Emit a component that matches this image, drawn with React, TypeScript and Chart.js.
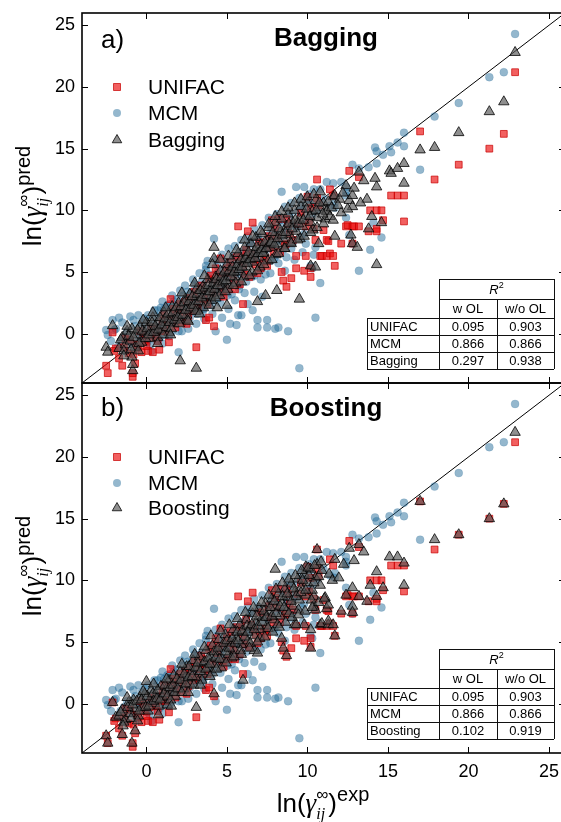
import React, { useEffect, useRef } from "react";
import { Chart, registerables } from "chart.js";

Chart.register(...registerables);

// ---------------- data ----------------
const axisMin = -4;
const axisMax = 26;
const xTickValues = [0, 5, 10, 15, 20, 25];
const yTickValues = [0, 5, 10, 15, 20, 25];
const diagonal: [number, number][] = [[-4, -4], [26, 26]];

const unifacPts: [number, number][] = [
  [-2.5, -2.6], [-2.4, -3.2], [-2.1, 0.1], [-1.9, -1.2], [-1.5, -2.6], [-1.3, -0.4], [-1.1, -1.6],
  [-0.85, -3.5], [-0.85, -3.2], [-0.7, -2.4], [-0.6, -0.9], [-0.4, 0.2], [-0.3, -1.5], [-0.1, -0.6],
  [0.1, -1.4], [0.3, 0.5], [0.4, -1.5], [0.6, -0.2], [0.8, -1.3], [1.0, 1.0], [1.2, 0.2], [1.4, -0.7],
  [1.5, 2.8], [1.6, 1.4], [1.8, 0.5], [2.0, 1.9], [2.2, 0.9], [2.4, 2.6], [2.6, 1.4], [2.8, 2.2],
  [3.0, 3.4], [3.1, -1.1], [3.2, 2.1], [3.4, 3.9], [3.6, 2.8], [3.7, 1.1], [3.9, 1.3], [3.9, 4.4],
  [4.1, 3.3], [4.2, 0.6], [4.3, 5.3], [4.4, 4.1], [4.6, 6.1], [4.7, 3.4], [4.9, 4.9], [5.1, 3.6],
  [5.2, 5.8], [5.4, 4.3], [5.6, 6.2], [5.7, 8.7], [5.8, 4.0], [6.0, 2.4], [6.0, 5.5], [6.2, 6.8],
  [6.3, 8.3], [6.4, 4.6], [6.6, 9.0], [6.7, 6.0], [6.9, 4.9], [7.1, 5.3], [7.2, 7.4], [7.4, 6.1],
  [7.5, 5.5], [7.6, 7.9], [7.8, 9.2], [7.9, 6.6], [8.1, 7.8], [8.2, 9.3], [8.4, 5.0], [8.5, 4.3],
  [8.6, 7.2], [8.7, 9.3], [8.7, 3.8], [8.7, 7.3], [8.9, 8.1], [9.0, 4.5], [9.3, 5.3], [9.3, 6.3],
  [9.4, 8.9], [9.8, 5.1], [9.9, 6.3], [9.9, 8.7], [10.0, 11.1], [10.2, 4.6], [10.2, 5.3], [10.2, 10.2],
  [10.4, 8.5], [10.5, 7.6], [10.6, 12.5], [10.7, 10.4], [10.8, 6.3], [10.9, 6.3], [11.2, 6.3],
  [11.2, 7.6], [11.3, 7.5], [11.4, 6.5], [11.6, 6.3], [11.6, 11.2], [11.7, 5.5], [12.1, 7.3],
  [12.4, 8.7], [12.5, 8.8], [12.6, 13.2], [12.8, 8.7], [12.8, 7.3], [12.9, 8.7], [13.2, 8.7],
  [13.2, 12.7], [13.8, 8.3], [13.9, 10.0], [14.3, 10.0], [14.3, 8.5], [14.3, 8.3], [14.6, 10.0],
  [14.7, 9.2], [15.2, 11.2], [15.6, 11.2], [16.0, 11.2], [16.0, 9.1], [17.0, 16.4], [17.9, 12.5],
  [19.4, 13.7], [21.3, 15.0], [22.2, 16.2], [22.9, 21.2],
  [-2.0, -1.4], [-1.7, -2.0], [-1.4, -1.1], [-1.0, -0.5], [-0.8, -1.7], [-0.5, -1.1], [-0.2, 0.0],
  [0.0, -1.0], [0.2, -0.3], [0.5, 0.4], [0.7, -0.6], [0.9, 0.2], [1.1, 1.5], [1.3, 0.7], [1.7, 2.0],
  [1.9, 1.1], [2.1, 2.4], [2.3, 1.7], [2.5, 0.8], [2.7, 2.9], [2.9, 1.9], [3.3, 2.8], [3.5, 3.6],
  [3.8, 2.4], [4.0, 4.7], [4.5, 4.7], [4.8, 3.0], [5.0, 5.3], [5.3, 4.9], [5.5, 3.6], [5.9, 6.2],
  [6.1, 4.8], [6.5, 6.4], [6.8, 5.6], [7.0, 7.4], [7.3, 5.9], [7.7, 7.0], [8.0, 8.6], [8.3, 6.6],
  [8.8, 8.9], [9.1, 7.6], [9.6, 9.8], [10.1, 9.1], [10.6, 11.0], [11.0, 8.4], [11.4, 11.7],
];

const mcmPts: [number, number][] = [
  [-2.5, 0.3], [-2.4, -0.1], [-2.1, 1.1], [-1.9, 0.4], [-1.6, -0.6], [-1.4, -0.3], [-1.2, 0.2],
  [-1.0, 1.4], [-0.9, -0.8], [-0.7, 0.6], [-0.5, -0.2], [-0.3, 0.9], [-0.2, -0.5], [0.0, 0.3],
  [0.1, 1.5], [0.2, -0.9], [0.4, 0.8], [0.5, 0.0], [0.7, 1.9], [0.8, -0.4], [0.9, 2.1], [1.0, 0.6],
  [1.2, 1.3], [1.3, 2.3], [1.4, -0.2], [1.6, 0.9], [1.7, 2.6], [1.8, 1.4], [2.0, -1.5], [2.0, 0.2],
  [2.1, 2.0], [2.3, 3.1], [2.4, 1.1], [2.5, 2.6], [2.6, 0.4], [2.8, 3.4], [2.9, 1.8], [3.0, 2.5],
  [3.1, 0.8], [3.2, 3.9], [3.4, 2.2], [3.5, 3.2], [3.6, 1.2], [3.7, 5.5], [3.8, 5.9], [3.8, 3.6],
  [3.9, 2.6], [4.0, 4.4], [4.1, 1.6], [4.2, 7.7], [4.2, 3.5], [4.3, 0.2], [4.4, 4.9], [4.5, 2.9],
  [4.6, 4.0], [4.7, 1.3], [4.8, 5.2], [4.9, 3.6], [5.0, -0.5], [5.0, 4.6], [5.1, 2.0], [5.2, 0.8],
  [5.3, 5.6], [5.4, 4.1], [5.5, 2.7], [5.6, 0.7], [5.7, 1.5], [5.7, 6.1], [5.8, 4.8], [5.9, 1.5],
  [6.0, 5.4], [6.1, 3.3], [6.2, 6.9], [6.3, 2.4], [6.4, 5.8], [6.5, 7.3], [6.6, 1.9], [6.7, 4.7],
  [6.8, 6.4], [6.9, 0.5], [6.9, 1.1], [7.0, 7.6], [7.1, 5.3], [7.2, 3.0], [7.3, 6.7], [7.5, 0.5],
  [7.5, 1.1], [7.6, 8.0], [7.7, 5.9], [7.8, 7.1], [8.0, 0.4], [8.0, 8.4], [8.1, 6.4], [8.2, 0.5],
  [8.3, 7.6], [8.4, 11.5], [8.5, 9.0], [8.6, 5.1], [8.8, 0.2], [8.8, 8.3], [8.9, 9.5], [9.0, 6.9],
  [9.2, 8.8], [9.3, 11.9], [9.4, 9.9], [9.5, -2.8], [9.6, 7.8], [9.8, 10.1], [9.8, 11.9], [10.0, 9.3],
  [10.2, 5.5], [10.2, 10.6], [10.3, 5.3], [10.4, 6.4], [10.4, 11.7], [10.5, 7.0], [10.5, 1.3],
  [10.6, 10.0], [10.8, 4.1], [10.8, 11.7], [11.0, 10.9], [11.2, 12.3], [11.4, 10.4], [11.6, 12.2],
  [11.7, 10.2], [11.7, 10.6], [12.1, 12.3], [12.4, 11.2], [12.4, 11.5], [12.4, 11.9], [12.4, 9.4],
  [12.6, 8.0], [12.8, 7.3], [12.8, 13.7], [13.2, 13.4], [13.2, 5.1], [13.8, 13.5], [13.9, 6.8],
  [14.1, 9.0], [14.2, 15.1], [14.3, 14.8], [14.3, 13.8], [14.6, 7.8], [14.7, 14.5], [15.1, 15.2],
  [15.2, 14.7], [15.6, 15.5], [16.0, 15.2], [16.0, 16.3], [17.0, 13.3], [17.9, 17.6], [19.4, 18.7],
  [21.3, 20.8], [22.2, 21.2], [22.9, 24.3],
  [-2.2, -0.6], [-2.0, 0.3], [-1.8, -1.1], [-1.5, 0.9], [-1.3, -1.4], [-1.1, -0.5], [-0.8, 1.1],
  [-0.6, -1.2], [-0.4, 0.1], [-0.1, 1.2], [0.05, -0.7], [0.3, 0.1], [0.6, 1.4], [0.65, -0.6],
  [0.85, 0.6], [1.1, 2.0], [1.15, -0.1], [1.35, 0.8], [1.5, 2.4], [1.55, 0.1], [1.75, 1.0],
  [1.9, 2.8], [2.05, 1.2], [2.2, 0.2], [2.35, 2.0], [2.55, 3.4], [2.7, 1.3], [2.85, 2.6], [3.0, 4.0],
  [3.15, 1.6], [3.3, 2.9], [3.45, 4.2], [3.55, 2.0], [3.75, 3.0], [3.9, 4.8], [4.05, 2.3],
  [4.25, 3.6], [4.4, 5.5], [4.55, 3.4], [4.75, 4.4], [4.9, 5.8], [5.05, 3.1], [5.25, 4.5],
  [5.4, 6.3], [5.55, 4.9], [5.75, 3.6], [5.9, 6.6], [6.05, 4.8], [6.25, 5.9], [6.4, 7.4],
  [6.55, 4.6], [6.75, 6.2], [6.9, 7.9], [7.05, 5.8], [7.25, 7.2], [7.4, 4.8], [7.6, 6.9],
  [7.75, 8.6], [7.95, 6.1], [8.1, 7.5], [8.3, 9.2], [8.5, 6.8], [8.7, 8.1], [8.9, 9.8], [9.1, 7.4],
  [9.35, 8.6], [9.6, 10.4], [9.8, 8.1], [10.0, 10.9], [10.3, 9.6],
  [2.4, 3.9], [2.9, 4.4], [3.3, 4.9], [3.7, 5.2], [4.3, 6.0], [4.7, 6.4], [5.1, 6.9], [5.5, 7.1],
  [5.9, 7.6], [6.3, 7.9], [6.7, 8.5], [7.2, 8.8], [7.6, 9.4], [8.1, 9.7], [8.6, 10.3], [9.0, 10.6],
  [9.5, 11.0], [10.1, 11.3], [3.5, 1.8], [4.1, 2.7], [4.6, 2.5], [5.3, 3.2], [5.8, 3.9], [6.2, 4.2],
  [6.7, 3.4], [7.1, 4.4], [7.7, 4.9], [8.2, 5.7], [8.7, 6.2], [9.2, 6.0], [9.7, 6.6], [9.9, 7.3],
  [0.5, 1.9], [1.0, 2.6], [1.6, 3.1], [2.1, 3.5], [-0.5, 1.5], [-1.7, 1.3], [0.3, -1.4], [1.0, -0.8],
];

const baggingPts: [number, number][] = [
  [-2.5, -1.1], [-2.4, -1.5], [-2.1, 0.65], [-0.85, -3.0], [-0.85, -2.5], [-0.9, -1.9], [2.1, -2.2],
  [3.1, -2.8], [-1.7, -1.2], [-1.5, -0.3], [-1.3, -0.9], [-1.2, 0.2], [-1.0, -0.6], [-0.9, 0.4],
  [-0.7, -1.1], [-0.6, -0.1], [-0.4, 0.6], [-0.3, -0.7], [-0.1, 0.1], [0.0, 0.9], [0.2, -0.4],
  [0.3, 0.5], [0.4, 1.3], [0.6, 0.2], [0.7, -0.3], [0.8, 1.0], [1.0, 0.4], [1.1, 1.7], [1.2, 0.9],
  [1.4, 0.1], [1.5, 1.4], [1.6, 2.2], [1.7, 0.8], [1.9, 1.6], [2.0, 2.5], [2.1, 1.1], [2.2, 1.9],
  [2.4, 2.8], [2.5, 1.5], [2.6, 2.3], [2.7, 3.2], [2.9, 2.0], [3.0, 2.7], [3.1, 3.6], [3.2, 1.9],
  [3.3, 3.0], [3.5, 3.8], [3.6, 2.5], [3.7, 3.4], [3.8, 4.4], [4.0, 3.0], [4.1, 3.7], [4.2, 7.0],
  [4.2, 6.1], [4.3, 4.6], [4.4, 2.1], [4.4, 3.3], [4.5, 4.1], [4.6, 5.1], [4.7, 3.8], [4.8, 4.5],
  [5.0, 2.3], [5.0, 5.6], [5.1, 4.0], [5.2, 4.9], [5.3, 6.0], [5.5, 4.6], [5.6, 5.4], [5.7, 6.5],
  [5.8, 5.0], [6.0, 5.9], [6.1, 7.0], [6.2, 5.4], [6.3, 6.3], [6.5, 7.3], [6.6, 5.8], [6.7, 6.7],
  [6.8, 7.8], [6.9, 2.6], [7.0, 6.2], [7.1, 7.2], [7.2, 8.1], [7.3, 6.6], [7.4, 3.1], [7.5, 7.5],
  [7.6, 8.6], [7.7, 7.0], [7.9, 7.9], [8.0, 9.0], [8.1, 3.5], [8.1, 7.3], [8.3, 8.2], [8.4, 9.3],
  [8.5, 7.7], [8.7, 8.7], [8.8, 9.7], [8.9, 8.0], [9.1, 9.0], [9.2, 10.0], [9.3, 8.3], [9.5, 2.8],
  [9.5, 9.3], [9.6, 10.3], [9.7, 8.7], [9.9, 9.6], [10.0, 10.6], [10.2, 5.5], [10.2, 9.0],
  [10.3, 9.9], [10.5, 5.4], [10.5, 10.8], [10.6, 9.4], [10.7, 7.3], [10.8, 10.2], [11.0, 10.6],
  [11.1, 9.3], [11.2, 10.0], [11.2, 9.9], [11.4, 9.5], [11.6, 9.2], [11.6, 11.1], [11.7, 11.2],
  [11.7, 7.9], [12.0, 10.9], [12.1, 9.8], [12.4, 12.0], [12.6, 10.8], [12.7, 8.0], [12.8, 11.2],
  [12.8, 10.3], [12.8, 7.3], [13.1, 7.0], [13.2, 13.1], [13.7, 10.9], [13.8, 8.5], [14.0, 9.5],
  [14.2, 12.6], [14.3, 11.9], [14.3, 5.6], [14.6, 9.0], [15.1, 13.2], [15.2, 13.0], [15.6, 13.4],
  [16.0, 13.8], [16.0, 12.2], [17.0, 14.9], [17.9, 15.1], [19.4, 16.3], [21.3, 18.0], [22.2, 18.8],
  [22.9, 22.8],
  [-1.6, -0.5], [-1.4, -1.4], [-1.1, -0.2], [-0.95, -1.3], [-0.8, -0.3], [-0.55, 0.3], [-0.45, -0.8],
  [-0.25, 0.2], [-0.05, -0.4], [0.05, 0.4], [0.15, -0.1], [0.35, 0.9], [0.45, 0.1], [0.55, 0.6],
  [0.75, 0.3], [0.85, 1.3], [0.95, 0.7], [1.05, -0.1], [1.15, 1.2], [1.25, 0.5], [1.35, 1.6],
  [1.45, 0.9], [1.55, 0.4], [1.65, 1.7], [1.75, 1.1], [1.85, 2.1], [1.95, 1.3], [2.05, 0.8],
  [2.15, 2.2], [2.25, 1.5], [2.35, 2.5], [2.45, 1.9], [2.55, 1.1], [2.65, 2.6], [2.75, 2.1],
  [2.85, 3.0], [2.95, 2.3], [3.05, 1.8], [3.15, 3.2], [3.25, 2.6], [3.35, 3.5], [3.45, 2.9],
  [3.55, 2.1], [3.65, 3.7], [3.75, 3.1], [3.85, 3.9], [3.95, 3.4], [4.05, 2.7], [4.15, 4.1],
  [4.25, 3.6], [4.35, 4.4], [4.45, 3.9], [4.55, 3.1], [4.65, 4.6], [4.75, 4.2], [4.85, 5.0],
  [4.95, 4.3], [5.05, 3.6], [5.15, 5.1], [5.25, 4.6], [5.35, 5.4], [5.45, 5.0], [5.55, 4.1],
  [5.65, 5.6], [5.75, 5.2], [5.85, 6.0], [5.95, 5.4], [6.05, 4.6], [6.15, 6.1], [6.25, 5.7],
  [6.35, 6.6], [6.45, 6.0], [6.55, 5.0], [6.65, 6.4], [6.75, 6.1], [6.85, 7.0], [6.95, 6.5],
  [7.05, 5.4], [7.15, 6.8], [7.25, 6.5], [7.35, 7.4], [7.45, 6.9], [7.55, 5.9], [7.65, 7.3],
  [7.75, 7.4], [7.85, 8.2], [7.95, 7.2], [8.05, 6.4], [8.15, 7.7], [8.25, 8.5], [8.45, 8.0],
  [8.55, 6.9], [8.65, 8.2], [8.85, 8.9], [8.95, 7.4], [9.05, 8.5], [9.25, 9.2], [9.45, 8.9],
  [9.55, 7.7], [9.75, 9.2], [9.95, 10.1], [10.15, 9.5], [10.35, 8.4], [10.55, 10.0], [10.75, 10.6],
  [10.95, 9.7],
  [4.1, 5.6], [4.3, 2.9], [4.6, 6.0], [4.9, 3.4], [5.1, 6.3], [5.4, 3.9], [5.6, 6.8], [5.9, 4.2],
  [6.1, 7.6], [6.4, 4.7], [6.6, 7.9], [6.9, 5.1], [7.1, 8.3], [7.3, 5.6], [7.6, 8.9], [7.8, 6.0],
  [8.0, 9.5], [8.2, 6.5], [8.4, 9.9], [8.6, 6.9], [8.8, 10.2], [9.0, 7.3], [9.2, 10.6], [9.4, 7.6],
  [9.6, 10.9], [9.8, 7.9], [10.0, 11.1], [10.2, 8.2], [10.4, 11.3], [10.6, 8.6], [10.8, 11.5],
  [11.0, 8.9], [11.3, 10.7], [11.5, 10.2], [11.9, 10.4], [12.2, 11.4], [12.5, 10.1], [12.9, 11.8],
  [13.3, 10.6], [13.5, 12.4], [2.2, 3.3], [2.6, 1.0], [3.0, 4.1], [3.3, 1.6], [3.6, 4.7], [3.9, 2.3],
  [1.2, 2.1], [1.5, -0.1], [0.4, 1.7], [0.7, -0.8], [-0.2, 1.1], [-0.5, -1.4], [-1.2, 0.6], [-1.4, -1.8],
];

const boostingPts: [number, number][] = [
  [-2.5, -2.6], [-2.4, -3.2], [-2.1, 0.1], [-1.9, -1.1], [-1.5, -2.5], [-0.9, -3.2], [-0.7, -2.2],
  [0.0, 1.8], [3.1, -0.3], [4.2, 0.8], [6.0, 1.9], [6.7, 4.3], [6.9, 4.1], [8.0, 10.9], [8.4, 5.3],
  [8.5, 4.5], [8.7, 3.9], [9.2, 6.4], [9.8, 6.4], [9.3, 6.4], [9.9, 11.1], [10.2, 4.5], [10.2, 6.0],
  [10.4, 8.7], [10.4, 7.9], [10.5, 7.6], [10.6, 12.5], [10.8, 6.4], [10.9, 6.5], [11.1, 8.6],
  [11.2, 7.7], [11.3, 6.4], [11.3, 6.7], [11.3, 8.0], [11.6, 6.4], [11.7, 5.5], [11.7, 11.7],
  [12.1, 7.5], [12.4, 8.8], [12.6, 12.6], [12.8, 9.4], [12.8, 7.9], [12.8, 7.4], [13.2, 8.7],
  [13.2, 12.9], [13.7, 8.3], [13.9, 9.6], [14.3, 10.7], [14.3, 8.7], [14.7, 9.4], [15.1, 11.9],
  [15.6, 11.9], [16.0, 11.4], [16.0, 9.6], [17.0, 16.4], [17.9, 13.3], [19.4, 13.7], [21.3, 15.0],
  [22.2, 16.2], [22.9, 22.0],
  [-1.7, -1.0], [-1.5, -0.5], [-1.3, -1.3], [-1.1, 0.1], [-1.0, -0.8], [-0.8, 0.3], [-0.7, -0.4],
  [-0.5, -1.0], [-0.4, 0.5], [-0.2, -0.3], [-0.1, 0.8], [0.1, -0.6], [0.2, 0.3], [0.3, 1.1],
  [0.5, 0.0], [0.6, 0.7], [0.8, -0.2], [0.9, 1.4], [1.0, 0.5], [1.2, 1.1], [1.3, -0.1], [1.4, 1.9],
  [1.6, 1.0], [1.7, 2.3], [1.8, 0.6], [2.0, 1.7], [2.1, 2.6], [2.3, 1.2], [2.4, 2.1], [2.5, 3.0],
  [2.7, 1.6], [2.8, 2.6], [2.9, 3.5], [3.1, 2.1], [3.2, 2.9], [3.3, 3.8], [3.5, 2.4], [3.6, 3.3],
  [3.7, 4.3], [3.9, 2.9], [4.0, 3.8], [4.1, 4.7], [4.3, 3.2], [4.4, 4.2], [4.5, 5.2], [4.7, 3.6],
  [4.8, 4.6], [4.9, 5.6], [5.1, 4.0], [5.2, 5.0], [5.4, 6.0], [5.5, 4.3], [5.6, 5.3], [5.8, 6.4],
  [5.9, 4.8], [6.0, 5.8], [6.2, 6.8], [6.3, 5.1], [6.4, 6.2], [6.6, 7.3], [6.7, 5.5], [6.8, 6.6],
  [7.0, 7.7], [7.1, 6.0], [7.2, 7.0], [7.4, 8.1], [7.5, 6.3], [7.6, 7.4], [7.8, 8.5], [7.9, 6.8],
  [8.0, 7.8], [8.2, 8.9], [8.3, 7.1], [8.4, 8.2], [8.6, 9.3], [8.7, 7.5], [8.8, 8.6], [9.0, 9.7],
  [9.1, 7.9], [9.2, 9.0], [9.4, 10.1], [9.5, 8.4], [9.6, 9.4], [9.8, 10.5], [9.9, 8.8], [10.0, 9.8],
  [10.2, 10.9], [10.3, 9.2], [10.5, 10.2], [10.6, 11.3], [10.8, 9.6],
  [-1.6, -0.7], [-1.4, -1.5], [-1.15, -0.3], [-0.95, -1.2], [-0.85, -0.1], [-0.6, 0.2], [-0.45, -0.6],
  [-0.3, 0.3], [-0.05, -0.3], [0.05, 0.6], [0.15, -0.2], [0.4, 0.8], [0.45, 0.2], [0.65, 0.4],
  [0.7, 1.1], [0.85, 0.3], [1.1, 0.8], [1.15, 1.5], [1.3, 0.6], [1.45, 1.3], [1.5, 0.3], [1.65, 1.5],
  [1.75, 0.9], [1.9, 2.0], [1.95, 1.2], [2.15, 1.9], [2.2, 0.9], [2.35, 2.4], [2.45, 1.6], [2.6, 2.1],
  [2.65, 3.0], [2.85, 2.2], [2.95, 1.5], [3.05, 2.9], [3.2, 3.3], [3.35, 2.6], [3.45, 1.9], [3.6, 3.4],
  [3.7, 2.8], [3.85, 3.7], [3.95, 3.2], [4.1, 2.5], [4.2, 4.2], [4.3, 3.7], [4.45, 4.5], [4.55, 3.6],
  [4.65, 2.9], [4.8, 4.9], [4.9, 4.2], [5.0, 5.1], [5.15, 4.5], [5.3, 3.7], [5.35, 5.3], [5.5, 4.9],
  [5.65, 5.8], [5.7, 5.1], [5.85, 4.3], [5.95, 5.9], [6.1, 5.4], [6.25, 6.3], [6.3, 5.8], [6.45, 4.9],
  [6.55, 6.4], [6.7, 6.0], [6.85, 7.1], [6.95, 6.3], [7.05, 5.3], [7.2, 6.6], [7.3, 7.5], [7.45, 7.0],
  [7.55, 6.1], [7.7, 7.8], [7.8, 7.1], [7.95, 8.3], [8.05, 7.3], [8.15, 6.4], [8.3, 7.9], [8.45, 8.7],
  [8.55, 7.8], [8.75, 8.9], [8.85, 7.3], [9.0, 8.3], [9.15, 9.3], [9.3, 8.7], [9.45, 7.6], [9.6, 9.0],
  [9.7, 10.0], [9.9, 9.2], [10.1, 10.4], [10.25, 8.4], [10.4, 9.8], [10.7, 10.3], [10.9, 10.8],
  [4.0, 5.5], [4.35, 2.8], [4.6, 5.9], [4.95, 3.3], [5.15, 6.4], [5.45, 3.8], [5.65, 6.9], [5.9, 4.0],
  [6.15, 7.4], [6.4, 4.5], [6.65, 7.8], [6.9, 5.0], [7.15, 8.2], [7.35, 5.4], [7.6, 8.8], [7.85, 5.8],
  [8.05, 9.3], [8.25, 6.2], [8.45, 9.8], [8.65, 6.6], [8.85, 10.1], [9.05, 7.0], [9.25, 10.4],
  [9.45, 7.2], [9.65, 10.8], [9.85, 7.5], [10.05, 11.0], [10.3, 7.8], [10.45, 11.2], [10.7, 8.2],
  [10.85, 11.5], [11.05, 8.5], [11.35, 10.5], [11.55, 10.0], [11.95, 10.2], [12.25, 11.3],
  [12.9, 11.6], [13.5, 12.3], [2.2, 3.2], [2.6, 0.9], [3.0, 4.0], [3.35, 1.5], [3.6, 4.6], [3.95, 2.2],
  [1.25, 2.0], [1.55, -0.2], [0.45, 1.6], [0.75, -0.9], [-0.2, 1.0], [-0.55, -1.4], [-1.2, 0.5],
  [-1.45, -1.8],
];

const topModelName = "Bagging";
const bottomModelName = "Boosting";
const topPanelLetter = "a)";
const bottomPanelLetter = "b)";
const tableHeader = ["w OL", "w/o OL"];
const topTableRows: [string, string, string][] = [
  ["UNIFAC", "0.095", "0.903"],
  ["MCM", "0.866", "0.866"],
  ["Bagging", "0.297", "0.938"],
];
const bottomTableRows: [string, string, string][] = [
  ["UNIFAC", "0.095", "0.903"],
  ["MCM", "0.866", "0.866"],
  ["Boosting", "0.102", "0.919"],
];

// ---------------- styles ----------------
const SANS = '"Liberation Sans", Arial, Helvetica, sans-serif';
const SERIF = '"Liberation Serif", "Times New Roman", serif';
const RED_FILL = "rgba(235,10,10,0.65)";
const RED_BORDER = "rgba(200,0,0,0.7)";
const BLUE_FILL = "rgba(31,104,150,0.48)";
const TRI_FILL = "rgba(85,85,85,0.66)";
const TRI_BORDER = "rgba(0,0,0,0.78)";

type Run = { t: string; f: string; dy: number; stack?: boolean };

function titleRuns(sup: string): Run[] {
  return [
    { t: "ln(", f: `26px ${SANS}`, dy: 0 },
    { t: "γ", f: `italic 27px ${SERIF}`, dy: 0 },
    { t: "ij", f: `italic 16px ${SERIF}`, dy: 7 },
    { t: "∞", f: `17px ${SANS}`, dy: -12, stack: true },
    { t: ")", f: `26px ${SANS}`, dy: 0 },
    { t: sup, f: `20px ${SANS}`, dy: -11 },
  ];
}

function drawRuns(ctx: CanvasRenderingContext2D, runs: Run[], cx: number, baseY: number) {
  const pos: number[] = [];
  let x = 0;
  let prevStart = 0;
  let prevW = 0;
  for (const r of runs) {
    ctx.font = r.f;
    const w = ctx.measureText(r.t).width;
    if (r.stack) {
      pos.push(prevStart);
      prevW = Math.max(prevW, w);
      x = prevStart + prevW;
    } else {
      pos.push(x);
      prevStart = x;
      prevW = w;
      x += w;
    }
  }
  const start = cx - x / 2;
  ctx.textAlign = "left";
  ctx.textBaseline = "alphabetic";
  ctx.fillStyle = "#000";
  runs.forEach((r, i) => {
    ctx.font = r.f;
    ctx.fillText(r.t, start + pos[i], baseY + r.dy);
  });
}

function drawMarker(ctx: CanvasRenderingContext2D, kind: string, x: number, y: number) {
  ctx.save();
  ctx.lineWidth = 1;
  if (kind === "rect") {
    ctx.fillStyle = RED_FILL;
    ctx.strokeStyle = RED_BORDER;
    ctx.beginPath();
    ctx.rect(x - 3.5, y - 3.5, 7, 7);
    ctx.fill();
    ctx.stroke();
  } else if (kind === "circle") {
    ctx.fillStyle = BLUE_FILL;
    ctx.beginPath();
    ctx.arc(x, y, 4, 0, Math.PI * 2);
    ctx.fill();
  } else {
    ctx.fillStyle = TRI_FILL;
    ctx.strokeStyle = TRI_BORDER;
    const r = 5.5;
    ctx.beginPath();
    ctx.moveTo(x, y - r);
    ctx.lineTo(x + r * 0.866, y + r * 0.5);
    ctx.lineTo(x - r * 0.866, y + r * 0.5);
    ctx.closePath();
    ctx.fill();
    ctx.stroke();
  }
  ctx.restore();
}

type PanelSpec = {
  top: number;
  bottom: number;
  isBottom: boolean;
  letter: string;
  letterDy: number;
  model: string;
  modelPts: [number, number][];
  rows: [string, string, string][];
  legendDy: number[];
};

function line(ctx: CanvasRenderingContext2D, x1: number, y1: number, x2: number, y2: number) {
  ctx.beginPath();
  ctx.moveTo(x1, y1);
  ctx.lineTo(x2, y2);
  ctx.stroke();
}

function drawTable(ctx: CanvasRenderingContext2D, top: number, rows: [string, string, string][]) {
  const xs = [367, 439, 497, 554];
  const ys = [266, 286, 305, 322, 339, 356].map((v) => v + top);
  ctx.save();
  ctx.fillStyle = "#fff";
  ctx.fillRect(xs[1], ys[0], xs[3] - xs[1], ys[2] - ys[0]);
  ctx.fillRect(xs[0], ys[2], xs[3] - xs[0], ys[5] - ys[2]);
  ctx.strokeStyle = "#111";
  ctx.lineWidth = 1;
  const h = (v: number) => Math.round(v) + 0.5;
  line(ctx, xs[1], h(ys[0]), xs[3], h(ys[0]));
  line(ctx, xs[1], h(ys[1]), xs[3], h(ys[1]));
  for (let i = 2; i <= 5; i++) line(ctx, xs[0], h(ys[i]), xs[3], h(ys[i]));
  line(ctx, h(xs[0]), ys[2], h(xs[0]), ys[5]);
  line(ctx, h(xs[1]), ys[0], h(xs[1]), ys[5]);
  line(ctx, h(xs[2]), ys[1], h(xs[2]), ys[5]);
  line(ctx, h(xs[3]), ys[0], h(xs[3]), ys[5]);

  ctx.fillStyle = "#000";
  ctx.textBaseline = "middle";
  ctx.font = `italic 13px ${SANS}`;
  const rW = ctx.measureText("R").width;
  ctx.font = `9px ${SANS}`;
  const sW = ctx.measureText("2").width;
  const cx = (xs[1] + xs[3]) / 2;
  const ym = (ys[0] + ys[1]) / 2 + 1;
  ctx.textAlign = "left";
  ctx.font = `italic 13px ${SANS}`;
  ctx.fillText("R", cx - (rW + sW) / 2, ym);
  ctx.font = `9px ${SANS}`;
  ctx.fillText("2", cx - (rW + sW) / 2 + rW, ym - 4);

  ctx.font = `13px ${SANS}`;
  ctx.textAlign = "center";
  ctx.fillText(tableHeader[0], (xs[1] + xs[2]) / 2, (ys[1] + ys[2]) / 2 + 1);
  ctx.fillText(tableHeader[1], (xs[2] + xs[3]) / 2, (ys[1] + ys[2]) / 2 + 1);
  rows.forEach((r, i) => {
    const y = (ys[2 + i] + ys[3 + i]) / 2 + 1;
    ctx.textAlign = "left";
    ctx.fillText(r[0], xs[0] + 3, y);
    ctx.textAlign = "center";
    ctx.fillText(r[1], (xs[1] + xs[2]) / 2, y);
    ctx.fillText(r[2], (xs[2] + xs[3]) / 2, y);
  });
  ctx.restore();
}

function makePlugin(p: PanelSpec) {
  return {
    id: "panelDecor",
    afterDraw(chart: any) {
      const ctx: CanvasRenderingContext2D = chart.ctx;
      const a = chart.chartArea;
      const xs = chart.scales.x;
      const ys = chart.scales.y;
      ctx.save();
      ctx.strokeStyle = "#000";
      ctx.lineWidth = 1.6;
      ctx.strokeRect(a.left, a.top, a.right - a.left, a.bottom - a.top);
      ctx.lineWidth = 1;
      const tl = 6;
      xTickValues.forEach((v) => {
        const px = Math.round(xs.getPixelForValue(v)) + 0.5;
        line(ctx, px, a.bottom, px, a.bottom - tl);
        line(ctx, px, a.top, px, a.top + tl);
      });
      yTickValues.forEach((v) => {
        const py = Math.round(ys.getPixelForValue(v)) + 0.5;
        line(ctx, a.left, py, a.left + tl, py);
        line(ctx, a.right, py, a.right - tl, py);
      });
      ctx.fillStyle = "#000";
      ctx.textBaseline = "alphabetic";
      ctx.textAlign = "left";
      ctx.font = `26px ${SANS}`;
      ctx.fillText(p.letter, 101, a.top + p.letterDy);
      ctx.textAlign = "center";
      ctx.font = `bold 26px ${SANS}`;
      ctx.fillText(p.model, 326, a.top + 33);
      const labels = ["UNIFAC", "MCM", p.model];
      const kinds = ["rect", "circle", "triangle"];
      labels.forEach((lab, i) => {
        const y = a.top + p.legendDy[i];
        drawMarker(ctx, kinds[i], 117, y);
        ctx.fillStyle = "#000";
        ctx.font = `21px ${SANS}`;
        ctx.textAlign = "left";
        ctx.textBaseline = "middle";
        ctx.fillText(lab, 148, y + 1);
      });
      drawTable(ctx, a.top, p.rows);
      ctx.save();
      ctx.translate(41, (a.top + a.bottom) / 2 - 2);
      ctx.rotate(-Math.PI / 2);
      drawRuns(ctx, titleRuns("pred"), 0, 0);
      ctx.restore();
      if (p.isBottom) {
        drawRuns(ctx, titleRuns("exp"), 323, 812);
      }
      ctx.restore();
    },
  };
}

function toXY(pts: [number, number][]) {
  return pts.map(([x, y]) => ({ x, y }));
}

function makeConfig(p: PanelSpec): any {
  return {
    type: "scatter",
    data: {
      datasets: [
        {
          label: p.model,
          data: toXY(p.modelPts),
          pointStyle: "triangle",
          pointRadius: 6,
          backgroundColor: TRI_FILL,
          borderColor: TRI_BORDER,
          borderWidth: 1,
          order: 0,
        },
        {
          label: "UNIFAC",
          data: toXY(unifacPts),
          pointStyle: "rect",
          pointRadius: 4.8,
          backgroundColor: RED_FILL,
          borderColor: RED_BORDER,
          borderWidth: 1,
          order: 1,
        },
        {
          label: "MCM",
          data: toXY(mcmPts),
          pointStyle: "circle",
          pointRadius: 4,
          backgroundColor: BLUE_FILL,
          borderColor: "rgba(31,104,150,0.3)",
          borderWidth: 0.5,
          order: 2,
        },
        {
          label: "y = x",
          data: toXY(diagonal),
          showLine: true,
          pointRadius: 0,
          borderColor: "#000",
          borderWidth: 1,
          order: 3,
        },
      ],
    },
    options: {
      animation: false,
      responsive: false,
      maintainAspectRatio: false,
      devicePixelRatio: 1,
      events: [],
      layout: {
        autoPadding: false,
        padding: { top: p.top, bottom: p.isBottom ? 0 : 822 - p.bottom, left: 0, right: 0 },
      },
      plugins: { legend: { display: false }, tooltip: { enabled: false } },
      scales: {
        x: {
          type: "linear",
          min: axisMin,
          max: axisMax,
          grid: { display: false, drawTicks: false },
          border: { display: false },
          ticks: {
            display: p.isBottom,
            color: "#000",
            font: { size: 18, family: SANS },
            padding: 8,
          },
          afterBuildTicks: (s: any) => {
            s.ticks = xTickValues.map((v) => ({ value: v }));
          },
          afterFit: (s: any) => {
            s.height = p.isBottom ? 822 - p.bottom : 0;
            s.paddingLeft = 0;
            s.paddingRight = 0;
          },
        },
        y: {
          type: "linear",
          min: axisMin,
          max: axisMax,
          grid: { display: false, drawTicks: false },
          border: { display: false },
          ticks: {
            color: "#000",
            font: { size: 18, family: SANS },
            padding: 7,
          },
          afterBuildTicks: (s: any) => {
            s.ticks = yTickValues.map((v) => ({ value: v }));
          },
          afterFit: (s: any) => {
            s.width = 82;
            s.paddingTop = 0;
            s.paddingBottom = 0;
          },
        },
      },
    },
    plugins: [makePlugin(p)],
  };
}

const topPanel: PanelSpec = {
  top: 13,
  bottom: 383,
  isBottom: false,
  letter: topPanelLetter,
  letterDy: 35,
  model: topModelName,
  modelPts: baggingPts,
  rows: topTableRows,
  legendDy: [74, 100, 127],
};

const bottomPanel: PanelSpec = {
  top: 383,
  bottom: 753,
  isBottom: true,
  letter: bottomPanelLetter,
  letterDy: 33,
  model: bottomModelName,
  modelPts: boostingPts,
  rows: bottomTableRows,
  legendDy: [74, 100, 125],
};

export default function App() {
  const topRef = useRef<HTMLCanvasElement | null>(null);
  const botRef = useRef<HTMLCanvasElement | null>(null);
  useEffect(() => {
    const c1 = new Chart(topRef.current as HTMLCanvasElement, makeConfig(topPanel));
    const c2 = new Chart(botRef.current as HTMLCanvasElement, makeConfig(bottomPanel));
    return () => {
      c1.destroy();
      c2.destroy();
    };
  }, []);
  const cs: React.CSSProperties = { position: "absolute", left: 0, top: 0, width: 565, height: 822 };
  return (
    <div
      style={{
        position: "absolute",
        left: 0,
        top: 0,
        width: 561,
        height: 822,
        overflow: "hidden",
        background: "#fff",
      }}
    >
      <canvas ref={topRef} width={565} height={822} style={cs} />
      <canvas ref={botRef} width={565} height={822} style={cs} />
    </div>
  );
}
